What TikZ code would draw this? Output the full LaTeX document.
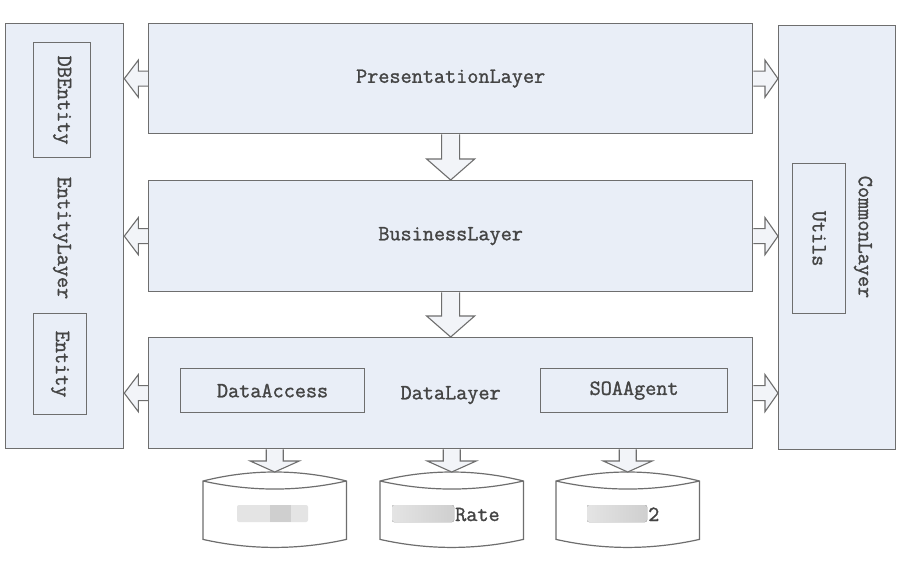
\documentclass[tikz,border=0pt]{standalone}
\usepackage{fontspec}
\usetikzlibrary{calc,backgrounds}

\newfontfamily\lblfont[FakeBold=1.3]{Latin Modern Mono}

\definecolor{layerfill}{HTML}{E9EEF7}
\definecolor{edge}{HTML}{6E6E6E}
\definecolor{arrowfill}{HTML}{F2F4F8}
\definecolor{labelgray}{HTML}{444444}
\definecolor{maskA}{HTML}{E4E4E4}
\definecolor{maskB}{HTML}{CFCFCF}

% block arrows: #1 start, #2 tip, #3 shaft half width, #4 head half width, #5 head length
\newcommand\blkdown[5]{%
  \draw[blockarrow] let \p1=#1, \p2=#2 in
    (\x1-#3,\y1) -- (\x1-#3,\y2+#5) -- (\x1-#4,\y2+#5) -- (\x1,\y2)
    -- (\x1+#4,\y2+#5) -- (\x1+#3,\y2+#5) -- (\x1+#3,\y1);}
\newcommand\blkleft[5]{%
  \draw[blockarrow] let \p1=#1, \p2=#2 in
    (\x1,\y1+#3) -- (\x2+#5,\y1+#3) -- (\x2+#5,\y1+#4) -- (\x2,\y1)
    -- (\x2+#5,\y1-#4) -- (\x2+#5,\y1-#3) -- (\x1,\y1-#3);}
\newcommand\blkright[5]{%
  \draw[blockarrow] let \p1=#1, \p2=#2 in
    (\x1,\y1+#3) -- (\x2-#5,\y1+#3) -- (\x2-#5,\y1+#4) -- (\x2,\y1)
    -- (\x2-#5,\y1-#4) -- (\x2-#5,\y1-#3) -- (\x1,\y1-#3);}
% database drum drawn inside the box of node #1
\newcommand\drum[1]{%
  \draw[store] let \p1=(#1.north west), \p2=(#1.south east), \n1={(\x2-\x1)/3} in
    (\x1,\y1-9pt) .. controls (\x1+\n1,\y1+3pt) and (\x2-\n1,\y1+3pt) .. (\x2,\y1-9pt)
    -- (\x2,\y2+8pt) .. controls (\x2-\n1,\y2-2.7pt) and (\x1+\n1,\y2-2.7pt) .. (\x1,\y2+8pt)
    -- cycle
    (\x1,\y1-9pt) .. controls (\x1+\n1,\y1-19.7pt) and (\x2-\n1,\y1-19.7pt) .. (\x2,\y1-9pt);}

\begin{document}
\begin{tikzpicture}[x=1pt,y=-1pt,
  layer/.style={draw=edge, fill=layerfill, line width=1.3pt, inner sep=0pt, anchor=north west},
  part/.style={draw=edge, line width=1.2pt, inner sep=0pt, anchor=north west},
  lbl/.style={text=labelgray, font=\lblfont\fontsize{21.6}{25}\selectfont, inner sep=0pt},
  blockarrow/.style={draw=edge, fill=arrowfill, line width=1.1pt, line join=miter},
  store/.style={draw=edge, fill=white, line width=1.2pt},
  drumbox/.style={inner sep=0pt, anchor=north west, minimum width=143pt, minimum height=75pt}]

\useasboundingbox (0,0) rectangle (904,567);

% layers
\node[layer, minimum width=604pt, minimum height=110pt] (pres) at (148,23) {};
\node[layer, minimum width=604pt, minimum height=111pt] (bus)  at (148,180) {};
\node[layer, minimum width=604pt, minimum height=111pt] (data) at (148,337) {};
\node[layer, minimum width=118pt, minimum height=425pt] (ent)  at (5,23) {};
\node[layer, minimum width=117pt, minimum height=424pt] (com)  at (778,25) {};

% modules inside the layers
\node[part, minimum width=57pt,  minimum height=115pt] (dbe) at (33,42) {};
\node[part, minimum width=53pt,  minimum height=101pt] (enb) at (33,313) {};
\node[part, minimum width=53pt,  minimum height=150pt] (utl) at (792,163) {};
\node[part, minimum width=184pt, minimum height=44pt]  (dac) at (180,368) {};
\node[part, minimum width=187pt, minimum height=44pt]  (soa) at (540,368) {};

% labels
\node[lbl] (presT) at (pres.center) {PresentationLayer};
\node[lbl] (busT)  at (bus.center)  {BusinessLayer};
\node[lbl] (dataT) at ([yshift=-2pt]data.center) {DataLayer};
\node[lbl] (dacT)  at (dac.center)  {DataAccess};
\node[lbl] (soaT)  at (soa.center)  {SOAAgent};
\node[lbl, rotate=-90] (dbeT) at (dbe.center) {DBEntity};
\node[lbl, rotate=-90] (enbT) at (enb.center) {Entity};
\node[lbl, rotate=-90] (entT) at (62,238) {EntityLayer};
\node[lbl, rotate=-90] (utlT) at (utl.center) {Utils};
\node[lbl, rotate=-90] (comT) at (863,237) {CommonLayer};

% databases
\node[drumbox] (db1) at (203,472) {};
\node[drumbox] (db2) at (380,472) {};
\node[drumbox] (db3) at (556,472) {};
\drum{db1}
\drum{db2}
\drum{db3}

% masked database names
\fill[maskA, rounded corners=2pt] (237,505) rectangle (308,522);
\fill[maskB] (270,505) rectangle (291,522);
\fill[left color=maskA, right color=maskB, rounded corners=2pt] (392,505) rectangle (454,522);
\fill[left color=maskA, right color=maskB, rounded corners=2pt] (587,505) rectangle (647,522);
\node[lbl, anchor=base west] (rateT) at (455,521) {Rate};
\node[lbl, anchor=base west] (twoT)  at (648,521) {2};

% dependency arrows
\begin{scope}[on background layer]
\fill[white] (0,0) rectangle (904,567);
\blkdown{(pres.south)}{(bus.north)}{9pt}{24pt}{21pt}
\blkdown{(bus.south)}{(data.north)}{9pt}{24pt}{21pt}
\blkleft{(pres.west)}{(ent.east)}{7.5pt}{18.5pt}{14pt}
\blkleft{(bus.west)}{(ent.east)}{7.5pt}{18.5pt}{14pt}
\blkleft{(data.west)}{(ent.east)}{7.5pt}{18.5pt}{14pt}
\blkright{(pres.east)}{(com.west)}{7.5pt}{18.5pt}{13pt}
\blkright{(bus.east)}{(com.west)}{7.5pt}{18.5pt}{13pt}
\blkright{(data.east)}{(com.west)}{7.5pt}{18.5pt}{13pt}
\end{scope}
\blkdown{(data.south -| db1.north)}{(db1.north)}{8.5pt}{24.5pt}{11pt}
\blkdown{(data.south -| db2.north)}{(db2.north)}{8.5pt}{24.5pt}{11pt}
\blkdown{(data.south -| db3.north)}{(db3.north)}{8.5pt}{24.5pt}{11pt}
\end{tikzpicture}
\end{document}
